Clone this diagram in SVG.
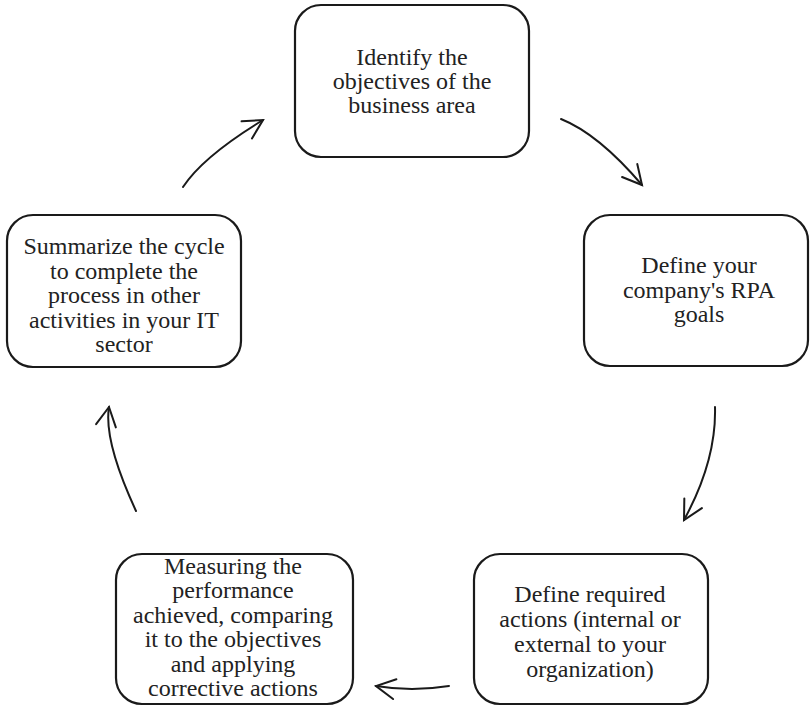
<svg xmlns="http://www.w3.org/2000/svg" width="810" height="708" viewBox="0 0 810 708">
  <style>
    .box { fill: #ffffff; stroke: #1a1a1a; stroke-width: 2.2; }
    .lbl { font-family: "Liberation Serif", "Times New Roman", serif; font-size: 24px; fill: #222222; text-anchor: middle; }
    .conn { fill: none; stroke: #1a1a1a; stroke-width: 2; stroke-linecap: round; marker-end: url(#arrow); }
  </style>
  <defs>
    <marker id="arrow" markerUnits="userSpaceOnUse" markerWidth="30" markerHeight="30" viewBox="-25 -15 30 30" refX="0" refY="0" orient="auto">
      <path d="M-19,-10 L0,0 L-19,10" fill="none" stroke="#1a1a1a" stroke-width="2" stroke-linecap="round" stroke-linejoin="miter"/>
    </marker>
  </defs>
  <rect width="810" height="708" fill="#ffffff"/>

  <g id="node-identify">
    <rect class="box" x="295" y="5" width="234" height="152" rx="26" ry="26"/>
    <text class="lbl" x="412" y="65">Identify the</text>
    <text class="lbl" x="412" y="89">objectives of the</text>
    <text class="lbl" x="412" y="113">business area</text>
  </g>

  <g id="node-define-goals">
    <rect class="box" x="584" y="215" width="224" height="151" rx="26" ry="26"/>
    <text class="lbl" x="699" y="273">Define your</text>
    <text class="lbl" x="699" y="298">company's RPA</text>
    <text class="lbl" x="699" y="322">goals</text>
  </g>

  <g id="node-define-actions">
    <rect class="box" x="474" y="554" width="234" height="150" rx="26" ry="26"/>
    <text class="lbl" x="590" y="602">Define required</text>
    <text class="lbl" x="590" y="627">actions (internal or</text>
    <text class="lbl" x="590" y="652">external to your</text>
    <text class="lbl" x="590" y="677">organization)</text>
  </g>

  <g id="node-measure">
    <rect class="box" x="116" y="554" width="237" height="150" rx="26" ry="26"/>
    <text class="lbl" x="233" y="574">Measuring the</text>
    <text class="lbl" x="233" y="598">performance</text>
    <text class="lbl" x="233" y="623">achieved, comparing</text>
    <text class="lbl" x="233" y="647">it to the objectives</text>
    <text class="lbl" x="233" y="672">and applying</text>
    <text class="lbl" x="233" y="696">corrective actions</text>
  </g>

  <g id="node-summarize">
    <rect class="box" x="7" y="215" width="234" height="152" rx="26" ry="26"/>
    <text class="lbl" x="124" y="254">Summarize the cycle</text>
    <text class="lbl" x="124" y="279">to complete the</text>
    <text class="lbl" x="124" y="303">process in other</text>
    <text class="lbl" x="124" y="328">activities in your IT</text>
    <text class="lbl" x="124" y="352">sector</text>
  </g>

  <g id="connectors">
    <path class="conn" d="M561,119 Q598.5,134 642,185"/>
    <path class="conn" d="M715,407 Q716.5,460.5 684,520"/>
    <path class="conn" d="M449,686 Q411.5,692 376,686"/>
    <path class="conn" d="M136,511 Q103.5,441 109,407"/>
    <path class="conn" d="M183,187 Q203,156.5 263,120"/>
  </g>
</svg>
